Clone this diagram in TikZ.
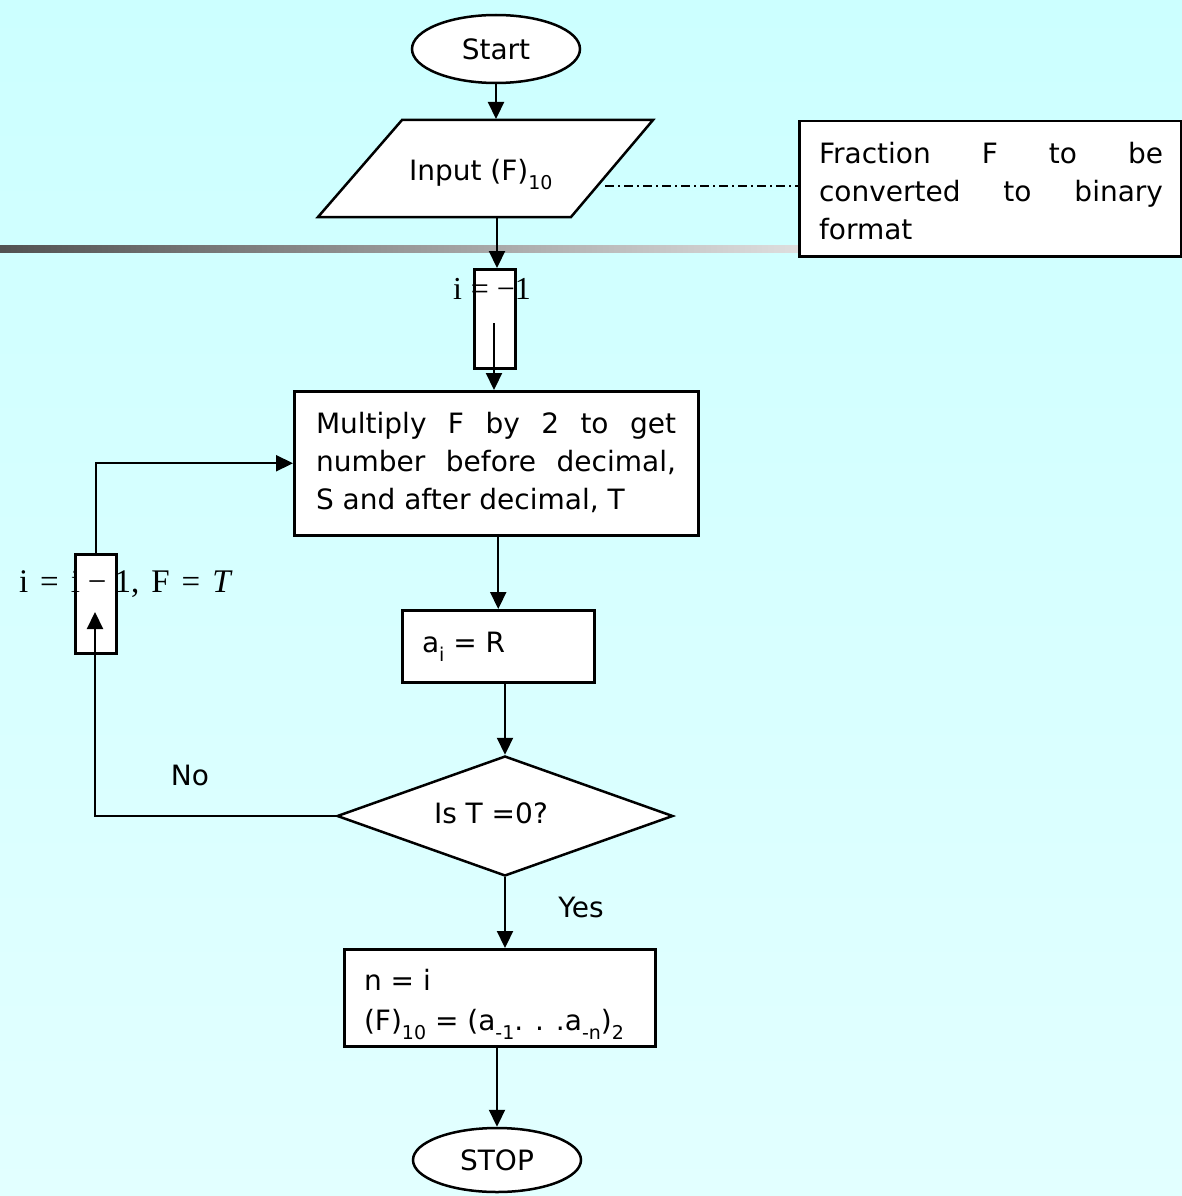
\documentclass[tikz,border=0pt]{standalone}
\usepackage{fontspec}
\setmainfont{DejaVu Sans}
\newfontfamily\tnr{Liberation Serif}
\usetikzlibrary{shapes.geometric,arrows.meta}
\definecolor{bgtop}{RGB}{204,255,255}
\definecolor{bgbot}{RGB}{226,255,255}
\newcommand\lowsub[1]{\raisebox{-9pt}{\fontsize{19}{19}\selectfont #1}}
\begin{document}
\begin{tikzpicture}[x=1pt,y=-1pt,
  line width=2pt,
  every node/.style={font=\fontsize{28}{38}\selectfont, inner sep=0pt},
  box/.style={draw=black, fill=white, line width=2.5pt},
  arr/.style={-{Triangle[length=17pt,width=16pt]}, line width=2.2pt},
  lbl/.style={font=\tnr\fontsize{33}{36}\selectfont},
  dashdot/.style={line width=1.5pt, dash pattern=on 9pt off 4pt on 2pt off 4pt}
]
% background
\shade[top color=bgtop, bottom color=bgbot] (0,0) rectangle (1182,1196);
\useasboundingbox (0,0) rectangle (1182,1196);
% gradient rule
\shade[left color=black!68, right color=black!13] (0,245) rectangle (798,252);

% start
\node[box, ellipse, minimum width=168, minimum height=68] (start) at (496,49) {Start};

% input parallelogram
\draw[box] (402,120) -- (653,120) -- (571,217) -- (318,217) -- cycle;
\node[minimum width=251, minimum height=97] (inbox) at (497,168.5) {};
\node[anchor=base west] (intext) at (408,180) {Input (F)\lowsub{10}};
\draw[arr] (start.south) -- (start.south |- inbox.north);

% note
\node[box, minimum width=382, minimum height=135, anchor=north west] (note) at (798,120) {};
\node[anchor=base west] (notetext) at (818,163) {\parbox[t]{344pt}{\makebox[344pt][s]{Fraction F to be}\\
\makebox[344pt][s]{converted to binary}\\format}};
\coordinate (dashstart) at (605,186);
\draw[dashdot] (dashstart) -- (dashstart -| note.west);

% i = -1 box
\node[box, minimum width=41, minimum height=99, anchor=north west] (r1) at (473,268) {};
\node[lbl, anchor=base west, font=\tnr\fontsize{32}{34}\selectfont] (r1t) at (452,299) {i\hspace{9pt}=\hspace{8pt}−1};
\draw[arr] (inbox.south) -- (inbox.south |- r1.north);

% multiply
\node[box, minimum width=404, minimum height=144, anchor=north west] (mult) at (293,390) {};
\node[anchor=base west] (multtext) at (315,433) {\parbox[t]{360pt}{\makebox[360pt][s]{Multiply F by 2 to get}\\
\makebox[360pt][s]{number before decimal,}\\S and after decimal, T}};
\coordinate (r1a) at (494,323);
\draw[arr] (r1a) -- (r1a |- mult.north);

% a_i = R
\node[box, minimum width=192, minimum height=72, anchor=north west] (ai) at (401,609) {};
\node[anchor=base west] (aitext) at (421,652) {a\lowsub{i} = R};
\draw[arr] (ai.north |- mult.south) -- (ai.north);

% decision
\node[box, diamond, minimum width=336, minimum height=120] (dia) at (505,816) {};
\node[anchor=base west] (diatext) at (433,823) {Is T =0?};
\draw[arr] (ai.south -| dia.north) -- (dia.north);

% n = i box
\node[box, minimum width=311, minimum height=97, anchor=north west] (nbox) at (343,948) {};
\node[anchor=base west] (ntext1) at (363,990) {n = i};
\node[anchor=base west] (ntext2) at (363,1030) {(F)\lowsub{10} = (a\lowsub{-1}. . .a\lowsub{-n})\lowsub{2}};
\draw[arr] (dia.south) -- (dia.south |- nbox.north);
\node (yes) at (581,907) {Yes};

% stop
\node[box, ellipse, minimum width=168, minimum height=64] (stop) at (497,1160) {STOP};
\draw[arr] (nbox.south -| stop.north) -- (stop.north);

% loop
\node[box, minimum width=41, minimum height=99, anchor=north west] (r2) at (74,553) {};
\coordinate (loopc) at (95,816);
\coordinate (r2tip) at (95,612);
\draw[arr] (dia.west) -- (loopc) -- (r2tip);
\draw[arr] (r2.north) -- (r2.north |- mult.west) -- (mult.west);
\node[lbl, anchor=base west] (r2t) at (18,592) {i\hspace{12pt}=\hspace{12pt}i\hspace{8pt}−\hspace{8pt}1,\hspace{12pt}F\hspace{12pt}=\hspace{12pt}\textit{T}};
\node (no) at (190,775) {No};
\end{tikzpicture}
\end{document}
